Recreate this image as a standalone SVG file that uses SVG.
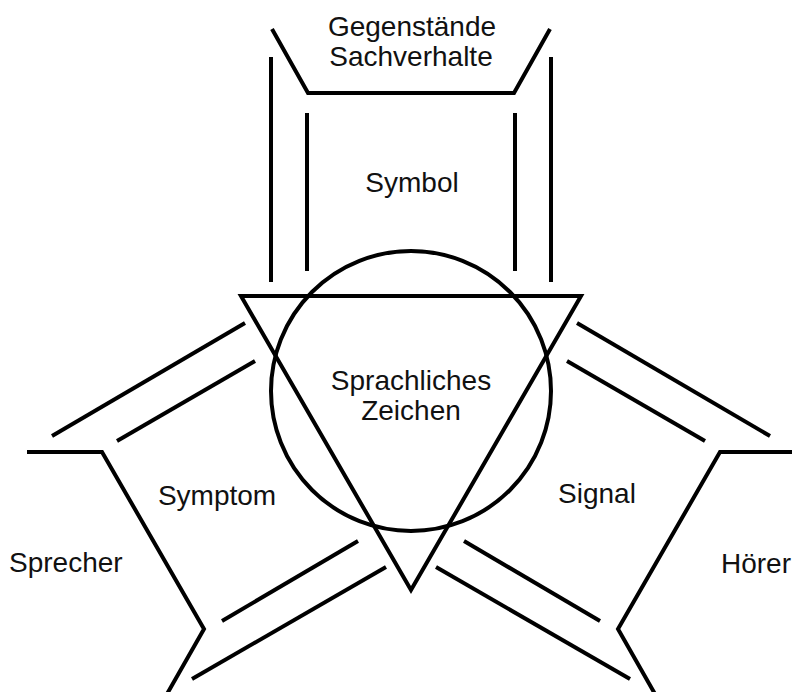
<svg xmlns="http://www.w3.org/2000/svg" width="792" height="692" viewBox="0 0 792 692">
  <style>
    .ln { fill: none; stroke: #000; stroke-width: 4; stroke-linejoin: miter; }
    .lb { font-family: "Liberation Sans", Arial, sans-serif; font-size: 28px; fill: #111; }
    .mid { text-anchor: middle; }
  </style>
  <rect width="792" height="692" fill="#fff"/>

  <!-- Organon model: the sign in the centre -->
  <g id="zeichen">
    <circle class="ln" cx="411" cy="391" r="140"/>
    <polygon class="ln" points="241,296 581,296 411,590"/>
    <text class="lb mid" x="411" y="390">Sprachliches</text>
    <text class="lb mid" x="411" y="420">Zeichen</text>
  </g>

  <!-- Objects and states of affairs -->
  <g id="gegenstaende">
    <polyline class="ln" points="272,29 308,93 514,93 550,29"/>
    <text class="lb mid" x="412" y="36">Gegenstände</text>
    <text class="lb mid" x="411" y="66">Sachverhalte</text>
  </g>

  <!-- Speaker -->
  <g id="sprecher">
    <polyline class="ln" points="27,452 102,452 204,629 167,694"/>
    <text class="lb" x="9" y="572">Sprecher</text>
  </g>

  <!-- Listener -->
  <g id="hoerer">
    <polyline class="ln" points="795,452 720,452 618,629 655,694"/>
    <text class="lb" x="721" y="573">Hörer</text>
  </g>

  <!-- Relations between the sign and the three poles -->
  <g id="connectors">
    <!-- Symbol -->
    <line class="ln" x1="271" y1="57" x2="271" y2="282"/>
    <line class="ln" x1="307" y1="113" x2="307" y2="271"/>
    <line class="ln" x1="515" y1="113" x2="515" y2="271"/>
    <line class="ln" x1="551" y1="57" x2="551" y2="282"/>
    <!-- Symptom -->
    <line class="ln" x1="52" y1="436" x2="245" y2="323"/>
    <line class="ln" x1="117" y1="441" x2="255" y2="361"/>
    <line class="ln" x1="222" y1="621" x2="358" y2="541"/>
    <line class="ln" x1="192" y1="679" x2="386" y2="567"/>
    <!-- Signal -->
    <line class="ln" x1="770" y1="436" x2="577" y2="323"/>
    <line class="ln" x1="705" y1="441" x2="567" y2="361"/>
    <line class="ln" x1="600" y1="621" x2="464" y2="541"/>
    <line class="ln" x1="630" y1="679" x2="436" y2="567"/>
  </g>

  <g id="labels">
    <text class="lb mid" x="412" y="192">Symbol</text>
    <text class="lb mid" x="217" y="505">Symptom</text>
    <text class="lb mid" x="597" y="503">Signal</text>
  </g>
</svg>
